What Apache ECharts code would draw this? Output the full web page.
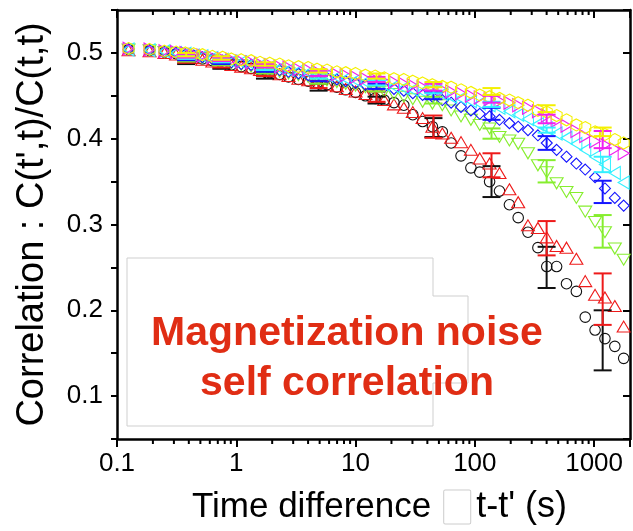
<!DOCTYPE html>
<html><head><meta charset="utf-8">
<script src="https://cdn.jsdelivr.net/npm/echarts@6/dist/echarts.min.js"></script>
<style>html,body{margin:0;padding:0;background:#fff}#c{width:633px;height:531px}</style>
</head><body><div id="c"></div>
<script>
// ---- data ----
const times = [0.125,0.1875,0.25,0.3125,0.375,0.44,0.52,0.63,0.77,0.91,1.10,1.33,1.58,1.91,2.31,2.74,3.32,4.01,4.76,5.76,6.97,8.27,10.0,12.1,14.6,17.4,21.0,25.4,30.2,36.5,44.1,53.4,63.3,76.6,92.7,110,133,161,195,231,279,338,401,485,587,710,843,1019,1233,1492,1770];
const corrBlack = [0.504,0.503,0.501,0.499,0.497,0.495,0.493,0.491,0.488,0.486,0.484,0.482,0.480,0.477,0.475,0.472,0.469,0.467,0.465,0.463,0.460,0.457,0.454,0.450,0.447,0.445,0.442,0.439,0.428,0.420,0.414,0.408,0.395,0.380,0.366,0.361,0.350,0.339,0.323,0.308,0.291,0.273,0.251,0.251,0.231,0.222,0.192,0.177,0.167,0.158,0.144];
const corrRed = [0.503,0.502,0.500,0.498,0.496,0.494,0.492,0.490,0.488,0.486,0.484,0.482,0.480,0.477,0.475,0.473,0.470,0.468,0.466,0.463,0.461,0.458,0.455,0.452,0.448,0.445,0.440,0.436,0.431,0.424,0.414,0.406,0.401,0.396,0.387,0.377,0.371,0.360,0.341,0.326,0.299,0.296,0.285,0.275,0.273,0.260,0.234,0.218,0.215,0.205,0.181];
const corrGreen = [0.504,0.503,0.501,0.500,0.498,0.496,0.494,0.492,0.490,0.488,0.486,0.484,0.482,0.480,0.478,0.476,0.474,0.472,0.470,0.468,0.466,0.464,0.462,0.460,0.458,0.455,0.452,0.449,0.446,0.443,0.441,0.439,0.433,0.426,0.422,0.416,0.412,0.402,0.398,0.394,0.383,0.369,0.361,0.348,0.338,0.331,0.315,0.303,0.291,0.272,0.259];
const corrBlue = [0.504,0.503,0.501,0.500,0.498,0.497,0.495,0.493,0.491,0.489,0.487,0.486,0.484,0.482,0.480,0.478,0.476,0.474,0.473,0.471,0.469,0.467,0.465,0.463,0.461,0.460,0.458,0.456,0.453,0.451,0.449,0.445,0.442,0.437,0.433,0.429,0.426,0.422,0.418,0.414,0.410,0.404,0.395,0.387,0.379,0.371,0.364,0.355,0.342,0.331,0.322];
const corrCyan = [0.504,0.503,0.502,0.500,0.499,0.497,0.496,0.494,0.492,0.490,0.489,0.487,0.485,0.484,0.482,0.480,0.479,0.477,0.475,0.474,0.472,0.470,0.468,0.466,0.465,0.463,0.461,0.459,0.457,0.455,0.454,0.452,0.449,0.447,0.444,0.441,0.439,0.436,0.432,0.428,0.423,0.417,0.412,0.406,0.401,0.394,0.387,0.379,0.370,0.360,0.349];
const corrMagenta = [0.505,0.504,0.502,0.501,0.500,0.498,0.497,0.495,0.493,0.492,0.490,0.489,0.487,0.486,0.484,0.483,0.481,0.480,0.478,0.477,0.475,0.474,0.472,0.470,0.469,0.467,0.466,0.464,0.462,0.460,0.459,0.457,0.455,0.453,0.450,0.448,0.446,0.444,0.442,0.439,0.436,0.432,0.427,0.421,0.415,0.409,0.403,0.397,0.393,0.388,0.383];
const corrYellow = [0.505,0.504,0.502,0.501,0.500,0.499,0.498,0.496,0.495,0.493,0.492,0.491,0.489,0.488,0.487,0.485,0.484,0.483,0.481,0.480,0.478,0.477,0.476,0.474,0.473,0.471,0.470,0.469,0.467,0.465,0.463,0.461,0.460,0.457,0.454,0.451,0.449,0.447,0.445,0.442,0.439,0.433,0.431,0.427,0.422,0.416,0.413,0.408,0.405,0.399,0.395];

const errTimes = [0.38,0.75,1.74,4.9,15,45,138,400,1180];
const errBlackMid = [0.489,0.4845,0.473,0.460,0.445,0.413,0.350,0.250,0.165];
const errBlackHalf = [0.002,0.003,0.003,0.004,0.004,0.011,0.018,0.024,0.035];
const errRedMid = [0.4905,0.486,0.476,0.463,0.449,0.414,0.369,0.284,0.213];
const errRedHalf = [0.002,0.003,0.003,0.004,0.006,0.013,0.014,0.020,0.030];
const errGreenMid = [0.492,0.4875,0.479,0.467,0.458,0.445,0.406,0.362,0.292];
const errGreenHalf = [0.002,0.002,0.003,0.003,0.003,0.004,0.006,0.013,0.019];
const errBlueMid = [0.4935,0.489,0.481,0.470,0.461,0.450,0.429,0.395,0.338];
const errBlueHalf = [0.002,0.002,0.003,0.003,0.003,0.004,0.007,0.008,0.013];
const errCyanMid = [0.495,0.491,0.483,0.473,0.465,0.457,0.440,0.410,0.370];
const errCyanHalf = [0.002,0.002,0.003,0.003,0.003,0.004,0.003,0.003,0.009];
const errMagentaMid = [0.4965,0.4925,0.485,0.476,0.469,0.460,0.446,0.423,0.399];
const errMagentaHalf = [0.002,0.002,0.002,0.003,0.003,0.004,0.004,0.005,0.010];
const errYellowMid = [0.498,0.494,0.487,0.479,0.473,0.463,0.455,0.435,0.408];
const errYellowHalf = [0.002,0.002,0.002,0.002,0.003,0.003,0.004,0.004,0.005];

const xTickLabels = ['0.1','1','10','100','1000'];
const yTickLabels = ['0.1','0.2','0.3','0.4','0.5'];
const xMinorTicks = [0.2,0.3,0.4,0.5,0.6,0.7,0.8,0.9,2,3,4,5,6,7,8,9,20,30,40,50,60,70,80,90,200,300,400,500,600,700,800,900];
const xAxisTitle = "Time difference";
const xAxisTitleTail = "t-t' (s)";
const yAxisTitle = "Correlation : C(t',t)/C(t,t)";
const noteText = "Magnetization noise\nself correlation";

// ---- chart ----
const FONT = "'Liberation Sans', Arial, Helvetica, sans-serif";
const SYM = {
  circle: 'circle',
  up: 'path://M0,-5L5.77,5L-5.77,5Z',
  down: 'path://M-5.77,-5L5.77,-5L0,5Z',
  diamond: 'path://M0,-5L5,0L0,5L-5,0Z',
  left: 'path://M5,-5.77L5,5.77L-5,0Z',
  right: 'path://M-5,-5.77L-5,5.77L5,0Z',
  hex: 'path://M0,-5L4.33,-2.5L4.33,2.5L0,5L-4.33,2.5L-4.33,-2.5Z'
};
const defs = [
  {vals: corrBlack, mid: errBlackMid, half: errBlackHalf, color: '#111111', sym: SYM.circle, size: 10.5},
  {vals: corrRed, mid: errRedMid, half: errRedHalf, color: '#ee1a1a', sym: SYM.up, size: [13,11]},
  {vals: corrGreen, mid: errGreenMid, half: errGreenHalf, color: '#86ee2e', sym: SYM.down, size: [13,11]},
  {vals: corrBlue, mid: errBlueMid, half: errBlueHalf, color: '#1515ff', sym: SYM.diamond, size: 11},
  {vals: corrCyan, mid: errCyanMid, half: errCyanHalf, color: '#33f0ff', sym: SYM.left, size: [11,13]},
  {vals: corrMagenta, mid: errMagentaMid, half: errMagentaHalf, color: '#f020f0', sym: SYM.right, size: [11,13]},
  {vals: corrYellow, mid: errYellowMid, half: errYellowHalf, color: '#f4f000', sym: SYM.hex, size: [11,12]}
];

function errRender(color) {
  return function (params, api) {
    const t = api.value(0), lo = api.value(1), hi = api.value(2);
    const a = api.coord([t, hi]), b = api.coord([t, lo]);
    const w = 9, st = {stroke: color, lineWidth: 2};
    return {type: 'group', children: [
      {type: 'line', shape: {x1: a[0], y1: a[1], x2: b[0], y2: b[1]}, style: st},
      {type: 'line', shape: {x1: a[0]-w, y1: a[1], x2: a[0]+w, y2: a[1]}, style: st},
      {type: 'line', shape: {x1: b[0]-w, y1: b[1], x2: b[0]+w, y2: b[1]}, style: st}
    ]};
  };
}

const series = [];
defs.forEach(function (d, i) {
  series.push({
    type: 'scatter', xAxisIndex: 0, yAxisIndex: 0, z: 2 + i * 0.01,
    data: times.map(function (t, k) { return [t, d.vals[k]]; }),
    symbol: d.sym, symbolSize: d.size,
    itemStyle: {color: 'rgba(255,255,255,0)', borderColor: d.color, borderWidth: 1.1, opacity: 1},
    emphasis: {disabled: true}, silent: true, animation: false
  });
});
defs.forEach(function (d, i) {
  series.push({
    type: 'custom', xAxisIndex: 0, yAxisIndex: 0, z: 3 + i * 0.01,
    data: errTimes.map(function (t, k) { return [t, d.mid[k] - d.half[k], d.mid[k] + d.half[k]]; }),
    renderItem: errRender(d.color), silent: true, animation: false, clip: false
  });
});
// minor ticks of log axes (bottom outward, top inward)
series.push({
  type: 'custom', xAxisIndex: 0, yAxisIndex: 0, z: 5, silent: true, animation: false, clip: false,
  data: xMinorTicks.map(function (v) { return [v, 0.3]; }),
  renderItem: function (params, api) {
    const b = api.coord([api.value(0), 0.05]);
    const t = api.coord([api.value(0), 0.55]);
    const st = {stroke: '#000', lineWidth: 2};
    return {type: 'group', children: [
      {type: 'line', shape: {x1: b[0], y1: b[1], x2: b[0], y2: b[1] + 5}, style: st},
      {type: 'line', shape: {x1: t[0], y1: t[1], x2: t[0], y2: t[1] + 5}, style: st}
    ]};
  }
});

const axisLine = {show: true, onZero: false, lineStyle: {color: '#000', width: 2.5}};
const option = {
  animation: false,
  backgroundColor: '#ffffff',
  grid: {left: 117, right: -4, top: 10, bottom: 92, containLabel: false},
  xAxis: [{
    type: 'log', logBase: 10, min: 0.1, max: 2000, position: 'bottom',
    axisLine: axisLine,
    axisTick: {show: true, inside: false, length: 8, lineStyle: {color: '#000', width: 2}},
    axisLabel: {show: true, margin: 12, fontSize: 26, color: '#000', fontFamily: FONT,
      formatter: function (v) { const s = String(+(+v).toPrecision(6)); return xTickLabels.indexOf(s) >= 0 ? s : ''; }},
    splitLine: {show: false}, minorTick: {show: false},
    name: '{lead| }' + xAxisTitle + '{sp| }{box| }{sp2| }{tail|' + xAxisTitleTail + '}', nameLocation: 'middle', nameGap: 50,
    nameTextStyle: {fontSize: 35, color: '#000', fontFamily: FONT,
      rich: {
        lead: {width: 12},
        sp: {width: 13},
        box: {width: 26, height: 33, backgroundColor: '#ffffff', borderColor: '#cccccc', borderWidth: 1, borderRadius: 1},
        sp2: {width: 6},
        tail: {fontSize: 36, color: '#000', fontFamily: FONT}
      }}
  }, {
    type: 'log', logBase: 10, min: 0.1, max: 2000, position: 'top',
    axisLine: axisLine,
    axisTick: {show: true, inside: true, length: 8, lineStyle: {color: '#000', width: 2}},
    axisLabel: {show: false}, splitLine: {show: false}
  }],
  yAxis: [{
    type: 'value', min: 0.05, max: 0.55, interval: 0.05, position: 'left',
    axisLine: axisLine,
    axisTick: {show: true, inside: false, length: 6, lineStyle: {color: '#000', width: 2}},
    axisLabel: {show: true, margin: 14, fontSize: 26, color: '#000', fontFamily: FONT,
      formatter: function (v) { const s = String(Math.round(v * 100) / 100); return yTickLabels.indexOf(s) >= 0 ? s : ''; }},
    splitLine: {show: false},
    name: yAxisTitle, nameLocation: 'middle', nameRotate: 90, nameGap: 65,
    nameTextStyle: {fontSize: 38, color: '#000', fontFamily: FONT}
  }, {
    type: 'value', min: 0.05, max: 0.55, splitNumber: 5, position: 'right',
    axisLine: axisLine,
    axisTick: {show: true, inside: true, length: 7, lineStyle: {color: '#000', width: 2}},
    axisLabel: {show: false}, splitLine: {show: false}
  }],
  graphic: [
    {type: 'polygon', z: 1, silent: true,
      shape: {points: [[127,258],[433,258],[433,296],[468,296],[468,383],[433,383],[433,426],[127,426]]},
      style: {fill: '#ffffff', stroke: '#cfcfcf', lineWidth: 1}},
    {type: 'text', z: 50, silent: true, x: 347, y: 359,
      style: {text: noteText, fill: '#e02d14', font: "bold 41px 'Liberation Sans', Arial, Helvetica, sans-serif",
        textAlign: 'center', textVerticalAlign: 'middle', lineHeight: 50}}
  ],
  series: series
};
const chart = echarts.init(document.getElementById('c'), null, {renderer: 'canvas'});
chart.setOption(option);
</script>
</body></html>
